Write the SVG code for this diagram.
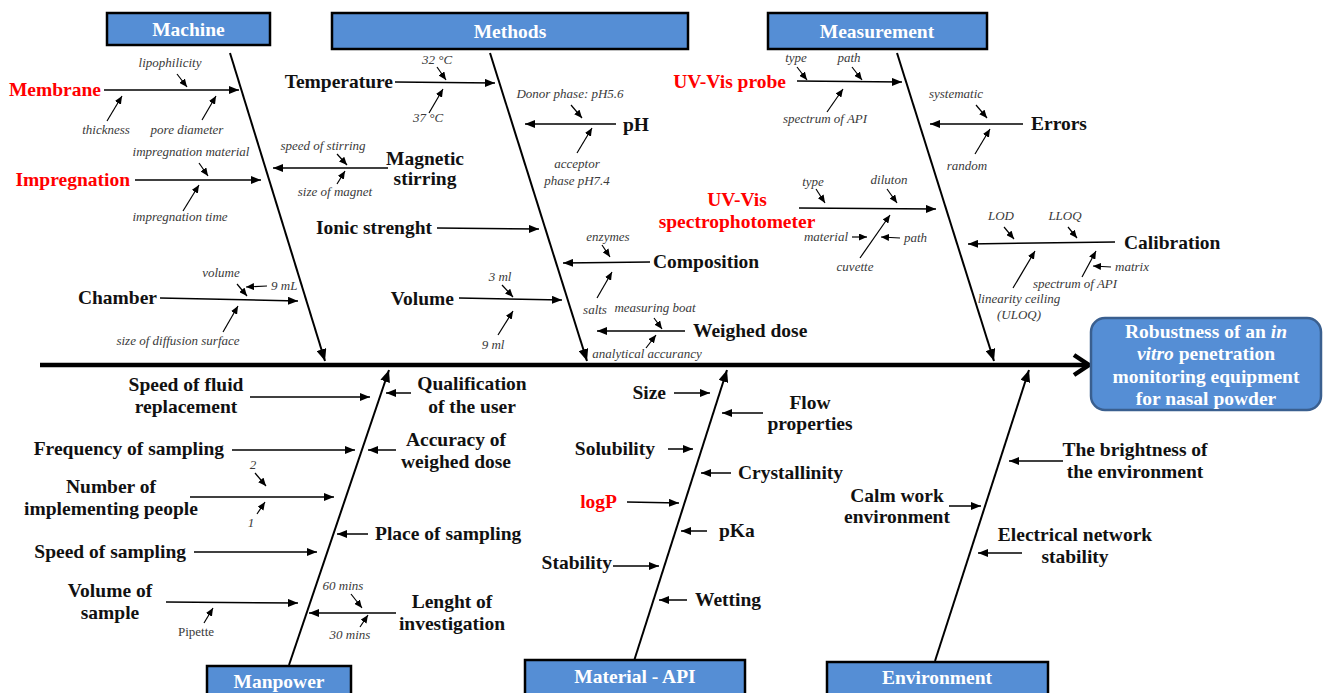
<svg xmlns="http://www.w3.org/2000/svg" width="1325" height="693" viewBox="0 0 1325 693">
<style>
text{font-family:"Liberation Serif","Times New Roman",serif}
.lb{font-size:19.5px;font-weight:bold;fill:#111}
.rd{font-size:19.5px;font-weight:bold;fill:#ff0000}
.hd{font-size:19.5px;font-weight:bold;fill:#ffffff}
.it{font-size:13px;font-style:italic;fill:#3a3a3a}
.rg{font-size:13px;fill:#3a3a3a}
.m{text-anchor:middle}
.e{text-anchor:end}
.box{fill:#558ed5;stroke:#000;stroke-width:2.5}
.bone{stroke:#000;stroke-width:2;fill:none}
.ln{stroke:#000;stroke-width:1.5;fill:none}
.sl{stroke:#000;stroke-width:1.2;fill:none}
</style>
<defs>
<marker id="big" markerUnits="userSpaceOnUse" markerWidth="12" markerHeight="10" refX="12" refY="5" orient="auto"><path d="M0,0 L12,5 L0,10 z" fill="#000"/></marker>
<marker id="med" markerUnits="userSpaceOnUse" markerWidth="10" markerHeight="8" refX="10" refY="4" orient="auto"><path d="M0,0 L10,4 L0,8 z" fill="#000"/></marker>
<marker id="sm" markerUnits="userSpaceOnUse" markerWidth="8" markerHeight="7" refX="8" refY="3.5" orient="auto"><path d="M0,0 L8,3.5 L0,7 z" fill="#000"/></marker>
</defs>

<g id="connectors">
<!-- spine -->
<line x1="40" y1="365" x2="1086" y2="365" stroke="#000" stroke-width="4.5"/>
<polyline points="1074,355 1089,365 1074,375" fill="none" stroke="#000" stroke-width="4.5"/>
<!-- bones -->
<line class="bone" x1="230" y1="53" x2="325" y2="361" marker-end="url(#big)"/>
<line class="bone" x1="490" y1="53" x2="587" y2="361" marker-end="url(#big)"/>
<line class="bone" x1="897" y1="53" x2="994" y2="361" marker-end="url(#big)"/>
<line class="bone" x1="289" y1="665" x2="389" y2="370" marker-end="url(#big)"/>
<line class="bone" x1="634" y1="661" x2="727" y2="370" marker-end="url(#big)"/>
<line class="bone" x1="935" y1="661" x2="1029" y2="370" marker-end="url(#big)"/>
<!-- Machine -->
<line class="ln" x1="104" y1="90" x2="239" y2="90" marker-end="url(#med)"/>
<line class="sl" x1="177" y1="74" x2="187" y2="87" marker-end="url(#sm)"/>
<line class="sl" x1="107" y1="121" x2="122" y2="96" marker-end="url(#sm)"/>
<line class="sl" x1="202" y1="120" x2="216" y2="96" marker-end="url(#sm)"/>
<line class="ln" x1="135" y1="180" x2="261" y2="180" marker-end="url(#med)"/>
<line class="sl" x1="199" y1="163" x2="208" y2="176" marker-end="url(#sm)"/>
<line class="sl" x1="183" y1="211" x2="199" y2="185" marker-end="url(#sm)"/>
<line class="ln" x1="160" y1="298" x2="298" y2="301" marker-end="url(#med)"/>
<line class="sl" x1="237" y1="284" x2="247" y2="296" marker-end="url(#sm)"/>
<line class="sl" x1="267" y1="286" x2="246" y2="287" marker-end="url(#sm)"/>
<line class="sl" x1="223" y1="332" x2="238" y2="306" marker-end="url(#sm)"/>
<!-- Methods -->
<line class="ln" x1="395" y1="82" x2="495" y2="83" marker-end="url(#med)"/>
<line class="sl" x1="437" y1="67" x2="446" y2="80" marker-end="url(#sm)"/>
<line class="sl" x1="429" y1="113" x2="443" y2="89" marker-end="url(#sm)"/>
<line class="ln" x1="616" y1="124" x2="525" y2="124" marker-end="url(#med)"/>
<line class="sl" x1="571" y1="105" x2="582" y2="118" marker-end="url(#sm)"/>
<line class="sl" x1="577" y1="153" x2="592" y2="128" marker-end="url(#sm)"/>
<line class="ln" x1="388" y1="168" x2="273" y2="168" marker-end="url(#med)"/>
<line class="sl" x1="337" y1="154" x2="347" y2="165" marker-end="url(#sm)"/>
<line class="sl" x1="337" y1="184" x2="345" y2="171" marker-end="url(#sm)"/>
<line class="ln" x1="437" y1="228" x2="539" y2="229" marker-end="url(#med)"/>
<line class="ln" x1="650" y1="262" x2="563" y2="263" marker-end="url(#med)"/>
<line class="sl" x1="602" y1="245" x2="610" y2="257" marker-end="url(#sm)"/>
<line class="sl" x1="597" y1="298" x2="612" y2="272" marker-end="url(#sm)"/>
<line class="ln" x1="459" y1="298" x2="562" y2="300" marker-end="url(#med)"/>
<line class="sl" x1="502" y1="285" x2="513" y2="297" marker-end="url(#sm)"/>
<line class="sl" x1="498" y1="335" x2="513" y2="311" marker-end="url(#sm)"/>
<line class="ln" x1="685" y1="331" x2="597" y2="331" marker-end="url(#med)"/>
<line class="sl" x1="654" y1="318" x2="662" y2="329" marker-end="url(#sm)"/>
<line class="sl" x1="646" y1="348" x2="656" y2="335" marker-end="url(#sm)"/>
<!-- Measurement -->
<line class="ln" x1="797" y1="81" x2="902" y2="82" marker-end="url(#med)"/>
<line class="sl" x1="797" y1="67" x2="807" y2="80" marker-end="url(#sm)"/>
<line class="sl" x1="852" y1="67" x2="862" y2="80" marker-end="url(#sm)"/>
<line class="sl" x1="827" y1="112" x2="843" y2="89" marker-end="url(#sm)"/>
<line class="ln" x1="1023" y1="124" x2="930" y2="124" marker-end="url(#med)"/>
<line class="sl" x1="976" y1="105" x2="987" y2="118" marker-end="url(#sm)"/>
<line class="sl" x1="975" y1="154" x2="990" y2="129" marker-end="url(#sm)"/>
<line class="ln" x1="799" y1="208" x2="936" y2="209" marker-end="url(#med)"/>
<line class="sl" x1="816" y1="189" x2="825" y2="203" marker-end="url(#sm)"/>
<line class="sl" x1="887" y1="189" x2="897" y2="203" marker-end="url(#sm)"/>
<line class="sl" x1="852" y1="237" x2="867" y2="237" marker-end="url(#sm)"/>
<line class="sl" x1="900" y1="238" x2="881" y2="237" marker-end="url(#sm)"/>
<line class="sl" x1="860" y1="258" x2="890" y2="215" marker-end="url(#sm)"/>
<line class="ln" x1="1115" y1="242" x2="968" y2="244" marker-end="url(#med)"/>
<line class="sl" x1="1004" y1="227" x2="1014" y2="239" marker-end="url(#sm)"/>
<line class="sl" x1="1068" y1="227" x2="1077" y2="238" marker-end="url(#sm)"/>
<line class="sl" x1="1013" y1="288" x2="1035" y2="251" marker-end="url(#sm)"/>
<line class="sl" x1="1082" y1="277" x2="1096" y2="251" marker-end="url(#sm)"/>
<line class="sl" x1="1111" y1="267" x2="1093" y2="266" marker-end="url(#sm)"/>
<!-- Manpower -->
<line class="ln" x1="250" y1="397" x2="370" y2="397" marker-end="url(#med)"/>
<line class="ln" x1="411" y1="393" x2="386" y2="393" marker-end="url(#med)"/>
<line class="ln" x1="232" y1="450" x2="355" y2="450" marker-end="url(#med)"/>
<line class="ln" x1="396" y1="450" x2="368" y2="450" marker-end="url(#med)"/>
<line class="sl" x1="255" y1="473" x2="266" y2="486" marker-end="url(#sm)"/>
<line class="ln" x1="190" y1="497" x2="334" y2="497" marker-end="url(#med)"/>
<line class="sl" x1="257" y1="514" x2="265" y2="502" marker-end="url(#sm)"/>
<line class="ln" x1="368" y1="534" x2="337" y2="534" marker-end="url(#med)"/>
<line class="ln" x1="194" y1="552" x2="317" y2="552" marker-end="url(#med)"/>
<line class="ln" x1="166" y1="602" x2="298" y2="603" marker-end="url(#med)"/>
<line class="sl" x1="204" y1="623" x2="213" y2="608" marker-end="url(#sm)"/>
<line class="sl" x1="351" y1="594" x2="362" y2="608" marker-end="url(#sm)"/>
<line class="sl" x1="360" y1="627" x2="368" y2="615" marker-end="url(#sm)"/>
<line class="ln" x1="396" y1="613" x2="309" y2="613" marker-end="url(#med)"/>
<!-- Material -->
<line class="ln" x1="674" y1="393" x2="710" y2="393" marker-end="url(#med)"/>
<line class="ln" x1="763" y1="413" x2="722" y2="413" marker-end="url(#med)"/>
<line class="ln" x1="668" y1="449" x2="693" y2="449" marker-end="url(#med)"/>
<line class="ln" x1="731" y1="473" x2="701" y2="473" marker-end="url(#med)"/>
<line class="ln" x1="627" y1="502" x2="679" y2="503" marker-end="url(#med)"/>
<line class="ln" x1="707" y1="531" x2="681" y2="531" marker-end="url(#med)"/>
<line class="ln" x1="613" y1="566" x2="659" y2="566" marker-end="url(#med)"/>
<line class="ln" x1="687" y1="600" x2="659" y2="600" marker-end="url(#med)"/>
<!-- Environment -->
<line class="ln" x1="1063" y1="461" x2="1009" y2="461" marker-end="url(#med)"/>
<line class="ln" x1="949" y1="506" x2="981" y2="506" marker-end="url(#med)"/>
<line class="ln" x1="1022" y1="553" x2="978" y2="553" marker-end="url(#med)"/>
</g>

<g id="machine"><rect class="box" x="107" y="13" width="163" height="32"/><text class="hd m" x="188.5" y="35.5">Machine</text></g>
<g id="methods"><rect class="box" x="332" y="13" width="356" height="36"/><text class="hd m" x="510" y="37.5">Methods</text></g>
<g id="measurement"><rect class="box" x="768" y="13" width="219" height="36"/><text class="hd m" x="877" y="37.5">Measurement</text></g>
<g id="manpower"><rect class="box" x="207" y="666" width="144" height="32"/><text class="hd m" x="279" y="688">Manpower</text></g>
<g id="material"><rect class="box" x="525" y="660" width="220" height="38"/><text class="hd m" x="635" y="683">Material - API</text></g>
<g id="environment"><rect class="box" x="827" y="662" width="221" height="36"/><text class="hd m" x="937" y="684">Environment</text></g>

<g id="outcome"><rect x="1091" y="318" width="230" height="92" rx="14" fill="#558ed5" stroke="#3a5f8f" stroke-width="2.5"/>
<text class="hd m" x="1206" y="338">Robustness of an <tspan font-style="italic">in</tspan></text>
<text class="hd m" x="1206" y="360"><tspan font-style="italic">vitro</tspan> penetration</text>
<text class="hd m" x="1206" y="383">monitoring equipment</text>
<text class="hd m" x="1206" y="405">for nasal powder</text></g>

<g id="membrane"><text class="rd e" x="101" y="96">Membrane</text>
<text class="it m" x="170" y="67">lipophilicity</text><text class="it m" x="106" y="134">thickness</text><text class="it m" x="187" y="134">pore diameter</text></g>
<g id="impregnation"><text class="rd e" x="130" y="186">Impregnation</text>
<text class="it m" x="191" y="156">impregnation material</text><text class="it m" x="180" y="221">impregnation time</text></g>
<g id="chamber"><text class="lb e" x="157" y="304">Chamber</text>
<text class="it m" x="221" y="277">volume</text><text class="it" x="271" y="290">9 mL</text><text class="it m" x="178" y="345">size of diffusion surface</text></g>

<g id="temperature"><text class="lb e" x="393" y="88">Temperature</text>
<text class="it m" x="437" y="64">32 °C</text><text class="it m" x="428" y="122">37 °C</text></g>
<g id="ph"><text class="lb" x="623" y="131">pH</text>
<text class="it m" x="570" y="98">Donor phase: pH5.6</text><text class="it m" x="577" y="168">acceptor</text><text class="it m" x="577" y="185">phase pH7.4</text></g>
<g id="magnetic"><text class="lb m" x="425" y="165">Magnetic</text><text class="lb m" x="425" y="185">stirring</text>
<text class="it m" x="323" y="150">speed of stirring</text><text class="it m" x="335" y="196">size of magnet</text></g>
<g id="ionic"><text class="lb e" x="432" y="234">Ionic strenght</text></g>
<g id="composition"><text class="lb" x="653" y="268">Composition</text>
<text class="it m" x="608" y="241">enzymes</text><text class="it m" x="595" y="314">salts</text></g>
<g id="volume"><text class="lb e" x="454" y="305">Volume</text>
<text class="it m" x="500" y="281">3 ml</text><text class="it m" x="493" y="349">9 ml</text></g>
<g id="weighed"><text class="lb" x="693" y="337">Weighed dose</text>
<text class="it m" x="655" y="312">measuring boat</text><text class="it m" x="647" y="358">analytical accurancy</text></g>

<g id="uvprobe"><text class="rd e" x="786" y="88">UV-Vis probe</text>
<text class="it m" x="796" y="62">type</text><text class="it m" x="849" y="62">path</text><text class="it m" x="825" y="123">spectrum of API</text></g>
<g id="errors"><text class="lb" x="1031" y="130">Errors</text>
<text class="it m" x="956" y="98">systematic</text><text class="it m" x="967" y="170">random</text></g>
<g id="uvspectro"><text class="rd m" x="737" y="206">UV-Vis</text><text class="rd m" x="737" y="228">spectrophotometer</text>
<text class="it m" x="813" y="186">type</text><text class="it m" x="889" y="184">diluton</text>
<text class="it e" x="848" y="241">material</text><text class="it" x="904" y="242">path</text><text class="it m" x="855" y="271">cuvette</text></g>
<g id="calibration"><text class="lb" x="1124" y="249">Calibration</text>
<text class="it m" x="1001" y="220">LOD</text><text class="it m" x="1065" y="220">LLOQ</text>
<text class="it m" x="1019" y="303">linearity ceiling</text><text class="it m" x="1019" y="319">(ULOQ)</text>
<text class="it m" x="1075" y="288">spectrum of API</text><text class="it" x="1115" y="271">matrix</text></g>

<g id="speedfluid"><text class="lb m" x="186" y="391">Speed of fluid</text><text class="lb m" x="186" y="413">replacement</text></g>
<g id="qualification"><text class="lb m" x="472" y="390">Qualification</text><text class="lb m" x="472" y="413">of the user</text></g>
<g id="frequency"><text class="lb e" x="224" y="455">Frequency of sampling</text></g>
<g id="accuracy"><text class="lb m" x="456" y="446">Accuracy of</text><text class="lb m" x="456" y="468">weighed dose</text></g>
<g id="number"><text class="lb m" x="111" y="493">Number of</text><text class="lb m" x="111" y="515">implementing people</text>
<text class="it m" x="253" y="469">2</text><text class="it m" x="251" y="527">1</text></g>
<g id="place"><text class="lb" x="375" y="540">Place of sampling</text></g>
<g id="speedsampling"><text class="lb e" x="186" y="558">Speed of sampling</text></g>
<g id="volsample"><text class="lb m" x="110" y="597">Volume of</text><text class="lb m" x="110" y="619">sample</text>
<text class="rg m" x="196" y="636">Pipette</text></g>
<g id="lenght"><text class="lb m" x="452" y="608">Lenght of</text><text class="lb m" x="452" y="630">investigation</text>
<text class="it m" x="343" y="590">60 mins</text><text class="it m" x="350" y="639">30 mins</text></g>

<g id="size"><text class="lb e" x="666" y="399">Size</text></g>
<g id="flow"><text class="lb m" x="810" y="409">Flow</text><text class="lb m" x="810" y="430">properties</text></g>
<g id="solubility"><text class="lb e" x="655" y="455">Solubility</text></g>
<g id="crystallinity"><text class="lb" x="738" y="479">Crystallinity</text></g>
<g id="logp"><text class="rd e" x="617" y="508">logP</text></g>
<g id="pka"><text class="lb" x="719" y="537">pKa</text></g>
<g id="stability"><text class="lb e" x="612" y="569">Stability</text></g>
<g id="wetting"><text class="lb" x="695" y="606">Wetting</text></g>

<g id="brightness"><text class="lb m" x="1135" y="456">The brightness of</text><text class="lb m" x="1135" y="478">the environment</text></g>
<g id="calm"><text class="lb m" x="897" y="502">Calm work</text><text class="lb m" x="897" y="523">environment</text></g>
<g id="electrical"><text class="lb m" x="1075" y="541">Electrical network</text><text class="lb m" x="1075" y="563">stability</text></g>
</svg>
